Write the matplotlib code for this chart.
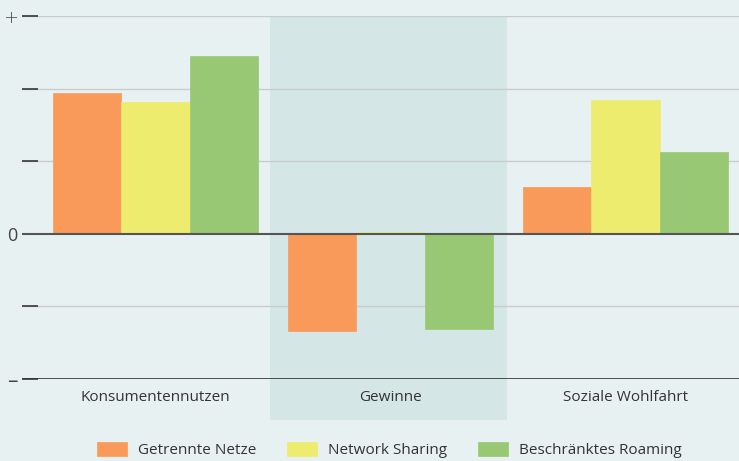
import matplotlib
matplotlib.use("Agg")
import matplotlib.pyplot as plt
import numpy as np

plt.rcParams['font.family'] = ['Open Sans', 'DejaVu Sans']

# Daten
kategorien = ["Konsumentennutzen", "Gewinne", "Soziale Wohlfahrt"]
serien = ["Getrennte Netze", "Network Sharing", "Beschränktes Roaming"]
getrennte_netze = [1.94, -1.34, 0.64]
network_sharing = [1.81, 0.02, 1.84]
beschr_roaming = [2.45, -1.31, 1.13]
y_ticks = [-2, -1, 0, 1, 2, 3]
y_labels = ["–", "", "0", "", "", "+"]

farben = ["#f9995a", "#eeec6e", "#98c873"]
hintergrund = "#e8f1f2"

fig = plt.figure(figsize=(7.39, 4.61), dpi=100, facecolor=hintergrund)
ax = fig.add_axes([22 / 739, 82 / 461, 717 / 739, 363 / 461])
ax.set_facecolor(hintergrund)

x = np.arange(len(kategorien))
breite = 0.29
werte = [getrennte_netze, network_sharing, beschr_roaming]

# hervorgehobener Bereich "Gewinne"
ax.axvspan(0.488, 1.496, ymin=-0.113, ymax=1, color="#d5e6e6", zorder=0,
           clip_on=False, lw=0)

for i, (name, w) in enumerate(zip(serien, werte)):
    ax.bar(x + (i - 1) * breite, w, breite, color=farben[i], label=name,
           zorder=3, edgecolor=farben[i], linewidth=0.5)

# Gitterlinien
for y in y_ticks:
    if y == 0:
        ax.axhline(y, color="#555555", lw=1.5, zorder=4)
    elif y == -2:
        ax.axhline(y, color="#333333", lw=1.2, zorder=4)
    else:
        ax.axhline(y, color="#c9cccc", lw=1.0, zorder=1)

ax.set_xlim(-0.568, 2.483)
ax.set_ylim(-2, 3)
ax.set_yticks(y_ticks)
ax.set_yticklabels(y_labels, fontsize=13, color="#444444")
for lab in ax.get_yticklabels():
    if lab.get_text() == "+":
        lab.set_fontsize(13)
        lab.set_family(["DejaVu Sans"])
        lab.set_fontweight("light")
    elif lab.get_text() == "–":
        lab.set_fontsize(15)
ax.tick_params(axis="y", direction="in", length=11.5, width=1.3,
               color="#444444", pad=3)
ax.set_xticks(x)
ax.set_xticklabels(kategorien, fontsize=11, color="#333333")
ax.tick_params(axis="x", length=0, pad=8)

for s in ax.spines.values():
    s.set_visible(False)

fig.legend(loc="center", bbox_to_anchor=(0.527, 0.024), ncol=3,
           frameon=False, fontsize=11, handlelength=1.95, handleheight=1.0,
           handletextpad=0.75, columnspacing=2.0, labelcolor="#333333")

fig.savefig("out.png", dpi=100, facecolor=hintergrund)
